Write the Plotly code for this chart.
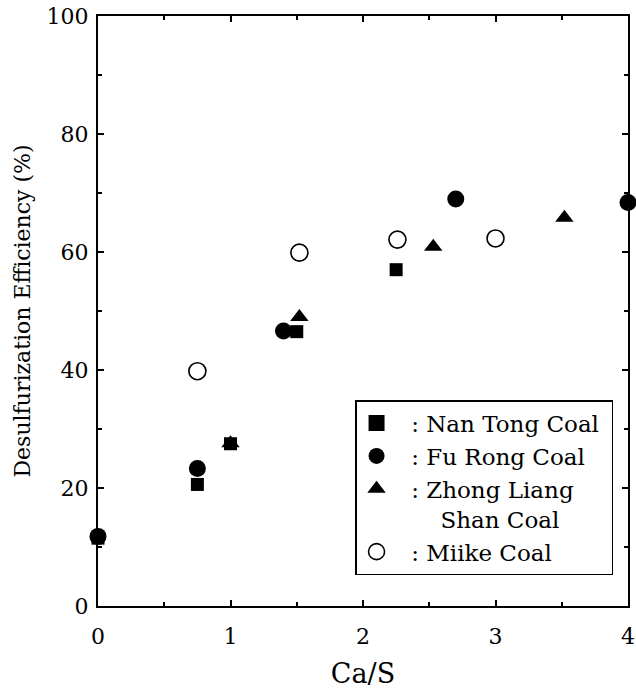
import plotly.graph_objects as go

# Data
nantong_x = [0.0, 0.75, 1.0, 1.5, 2.25]
nantong_y = [11.5, 20.6, 27.5, 46.5, 57.0]

furong_x = [0.0, 0.75, 1.4, 2.7, 4.0]
furong_y = [11.8, 23.3, 46.6, 69.0, 68.4]

zhong_x = [1.0, 1.52, 2.53, 3.52]
zhong_y = [27.6, 49.0, 60.9, 65.8]

miike_x = [0.75, 1.52, 2.26, 3.0]
miike_y = [39.8, 59.9, 62.1, 62.3]

NB = "\u00a0"
names = [NB * 2 + ": Nan Tong Coal" + NB, NB * 2 + ": Fu Rong Coal",
         NB * 2 + ": Zhong Liang<br>" + NB * 6 + "Shan Coal", NB * 2 + ": Miike Coal"]

FONT = "DejaVu Serif"

series = [
    (nantong_x, nantong_y, "square", 13, 17, None),
    (furong_x, furong_y, "circle", 17, 21, None),
    (zhong_x, zhong_y, "triangle-up", 16, 20, None),
    (miike_x, miike_y, "circle-open", 17, 20, 1.6),
]

fig = go.Figure()
for (xs, ys, sym, size, lsize, lw), name in zip(series, names):
    mk = dict(symbol=sym, size=size, color="black")
    lmk = dict(symbol=sym, size=lsize, color="black")
    if lw:
        mk["line"] = dict(width=lw, color="black")
        lmk["line"] = dict(width=lw, color="black")
    fig.add_trace(go.Scatter(x=xs, y=ys, mode="markers", name=name, marker=mk,
                             cliponaxis=False, showlegend=False, legendgroup=name))
    # legend-only entry with the larger legend symbol
    fig.add_trace(go.Scatter(x=[None], y=[None], mode="markers", name=name, marker=lmk,
                             showlegend=True, legendgroup=name))

axis_common = dict(showline=True, linecolor="black", linewidth=2, mirror="allticks",
                   ticks="inside", ticklen=6, tickwidth=2, tickcolor="black",
                   showgrid=False, zeroline=False, automargin=False,
                   tickfont=dict(family=FONT, size=22, color="black"))

fig.update_xaxes(range=[0, 4], dtick=1, tick0=0, ticklabelstandoff=10,
                 minor=dict(dtick=0.5, ticks="inside", ticklen=4, tickwidth=1.5, tickcolor="black"),
                 title=dict(text="Ca/S", font=dict(family=FONT, size=27, color="black"), standoff=20),
                 **axis_common)
fig.update_yaxes(range=[0, 100], dtick=20, tick0=0, ticklabelstandoff=3,
                 minor=dict(dtick=10, ticks="inside", ticklen=4, tickwidth=1.5, tickcolor="black"),
                 title=dict(text="Desulfurization Efficiency (%)",
                            font=dict(family=FONT, size=22, color="black"), standoff=10),
                 **axis_common)

fig.update_layout(
    width=636, height=689,
    margin=dict(l=98, r=8, t=16, b=83),
    paper_bgcolor="white", plot_bgcolor="white",
    font=dict(family=FONT, color="black"),
    legend=dict(x=0.485, y=0.349, xanchor="left", yanchor="top",
                bgcolor="white", bordercolor="black", borderwidth=1.5,
                font=dict(family=FONT, size=23, color="black"),
                valign="top", tracegroupgap=0, groupclick="togglegroup"),
    showlegend=True,
)

fig.write_html("out.html", config={"displayModeBar": False},
               post_script="document.body.style.margin='0';")
